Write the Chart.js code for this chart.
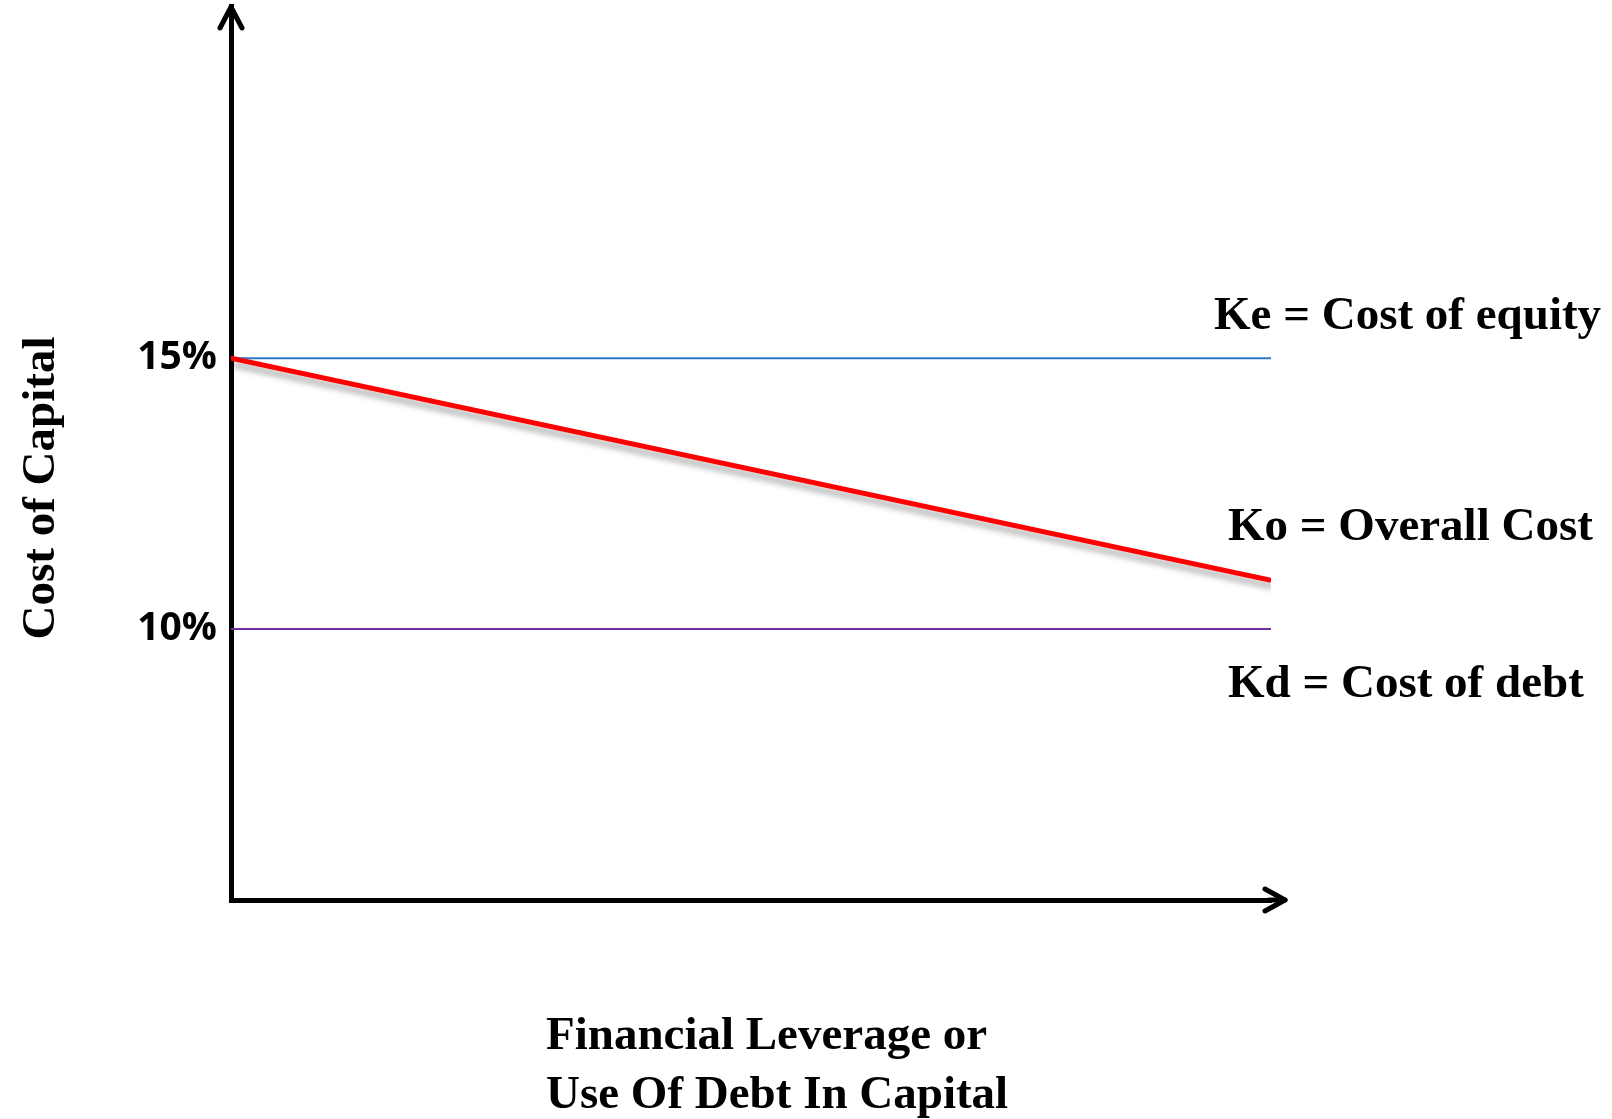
<!DOCTYPE html>
<html>
<head>
<meta charset="utf-8">
<script src="https://cdn.jsdelivr.net/npm/chart.js@4/dist/chart.umd.min.js"></script>
<style>
  html, body { margin: 0; padding: 0; background: #fff; }
  canvas { display: block; }
</style>
</head>
<body>
<canvas id="costChart" width="1612" height="1119"></canvas>
<script>
// values
const leverage = [0, 1]
const keValues = [15, 15]
const koValues = [15, 10.9]
const kdValues = [10, 10]
const yTickValues = [10, 15]
const seriesNames = ['Ke = Cost of equity', 'Ko = Overall Cost', 'Kd = Cost of debt']
const yTitle = 'Cost of Capital'
const xTitle = ['Financial Leverage or', 'Use Of Debt In Capital']

const serif = 'bold 47px "Liberation Serif", "Times New Roman", serif'

const toPoints = vals => vals.map((v, i) => ({ x: leverage[i], y: v }))

// red line gets a soft grey shadow like the original
const shadowLine = {
  id: 'shadowLine',
  beforeDatasetDraw(chart, args) {
    if (args.meta._dataset.shadow) {
      const ctx = chart.ctx
      ctx.save()
      ctx.shadowColor = 'rgba(0,0,0,0.35)'
      ctx.shadowBlur = 6
      ctx.shadowOffsetX = 2
      ctx.shadowOffsetY = 6
    }
  },
  afterDatasetDraw(chart, args) {
    if (args.meta._dataset.shadow) chart.ctx.restore()
  }
}

// arrow heads, line names and axis titles
const decorations = {
  id: 'decorations',
  afterDraw(chart) {
    const { ctx, chartArea } = chart
    const x = chart.scales.x, y = chart.scales.y
    ctx.save()
    ctx.strokeStyle = '#000'
    ctx.lineWidth = 5
    ctx.lineCap = 'round'
    ctx.lineJoin = 'round'

    // x axis runs on past the plot to its arrow
    const tipX = chartArea.right + 14
    ctx.beginPath()
    ctx.moveTo(chartArea.right - 2, chartArea.bottom)
    ctx.lineTo(tipX, chartArea.bottom)
    ctx.stroke()
    ctx.beginPath()
    ctx.moveTo(tipX - 20, chartArea.bottom - 11)
    ctx.lineTo(tipX, chartArea.bottom)
    ctx.lineTo(tipX - 20, chartArea.bottom + 11)
    ctx.stroke()

    // y arrow
    const tipY = chartArea.top + 1
    ctx.beginPath()
    ctx.moveTo(chartArea.left - 11, tipY + 21)
    ctx.lineTo(chartArea.left, tipY)
    ctx.lineTo(chartArea.left + 11, tipY + 21)
    ctx.stroke()

    // line names next to the line ends
    ctx.fillStyle = '#000'
    ctx.font = serif
    ctx.textAlign = 'left'
    ctx.textBaseline = 'alphabetic'
    const place = [[-57, -29], [-43, -40], [-43, 68]]
    chart.data.datasets.forEach(ds => {
      const last = ds.data[ds.data.length - 1]
      const px = x.getPixelForValue(last.x)
      const py = y.getPixelForValue(last.y)
      const k = seriesNames.indexOf(ds.label)
      ctx.fillText(ds.label, px + place[k][0], py + place[k][1])
    })

    // axis titles
    xTitle.forEach((line, i) => {
      ctx.fillText(line, chartArea.left + 315, 1049 + i * 59)
    })
    ctx.save()
    ctx.translate(54, 488)
    ctx.rotate(-Math.PI / 2)
    ctx.textAlign = 'center'
    ctx.fillText(yTitle, 0, 0)
    ctx.restore()

    ctx.restore()
  }
}

new Chart(document.getElementById('costChart'), {
  type: 'line',
  data: {
    datasets: [
      {
        label: seriesNames[0],
        data: toPoints(keValues),
        borderColor: '#2a7ac7',
        borderWidth: 2,
        pointRadius: 0,
        order: 1
      },
      {
        label: seriesNames[1],
        data: toPoints(koValues),
        borderColor: '#ff0000',
        borderWidth: 5,
        pointRadius: 0,
        shadow: true,
        order: 0
      },
      {
        label: seriesNames[2],
        data: toPoints(kdValues),
        borderColor: '#7030a0',
        borderWidth: 2,
        pointRadius: 0,
        order: 1
      }
    ]
  },
  options: {
    responsive: false,
    animation: false,
    layout: {
      padding: { left: 0, top: 6, right: 341, bottom: 0 }
    },
    plugins: {
      legend: { display: false },
      tooltip: { enabled: false }
    },
    scales: {
      x: {
        type: 'linear',
        min: 0,
        max: 1,
        grid: { display: false, drawTicks: false },
        border: { display: true, color: '#000', width: 5 },
        ticks: { display: false },
        afterFit(scale) {
          scale.height = 219
          scale.paddingLeft = 0
          scale.paddingRight = 0
        }
      },
      y: {
        min: 5,
        max: 21.5,
        grid: { display: false, drawTicks: false },
        border: { display: true, color: '#000', width: 5 },
        afterBuildTicks(scale) {
          scale.ticks = yTickValues.map(v => ({ value: v }))
        },
        ticks: {
          color: '#000',
          padding: 14,
          font: { family: '"Open Sans", Lato, sans-serif', weight: 'bold', size: 39 },
          callback: v => v + '%'
        },
        afterFit(scale) {
          scale.width = 231
          scale.paddingTop = 0
          scale.paddingBottom = 0
        }
      }
    }
  },
  plugins: [shadowLine, decorations]
})
</script>
</body>
</html>
